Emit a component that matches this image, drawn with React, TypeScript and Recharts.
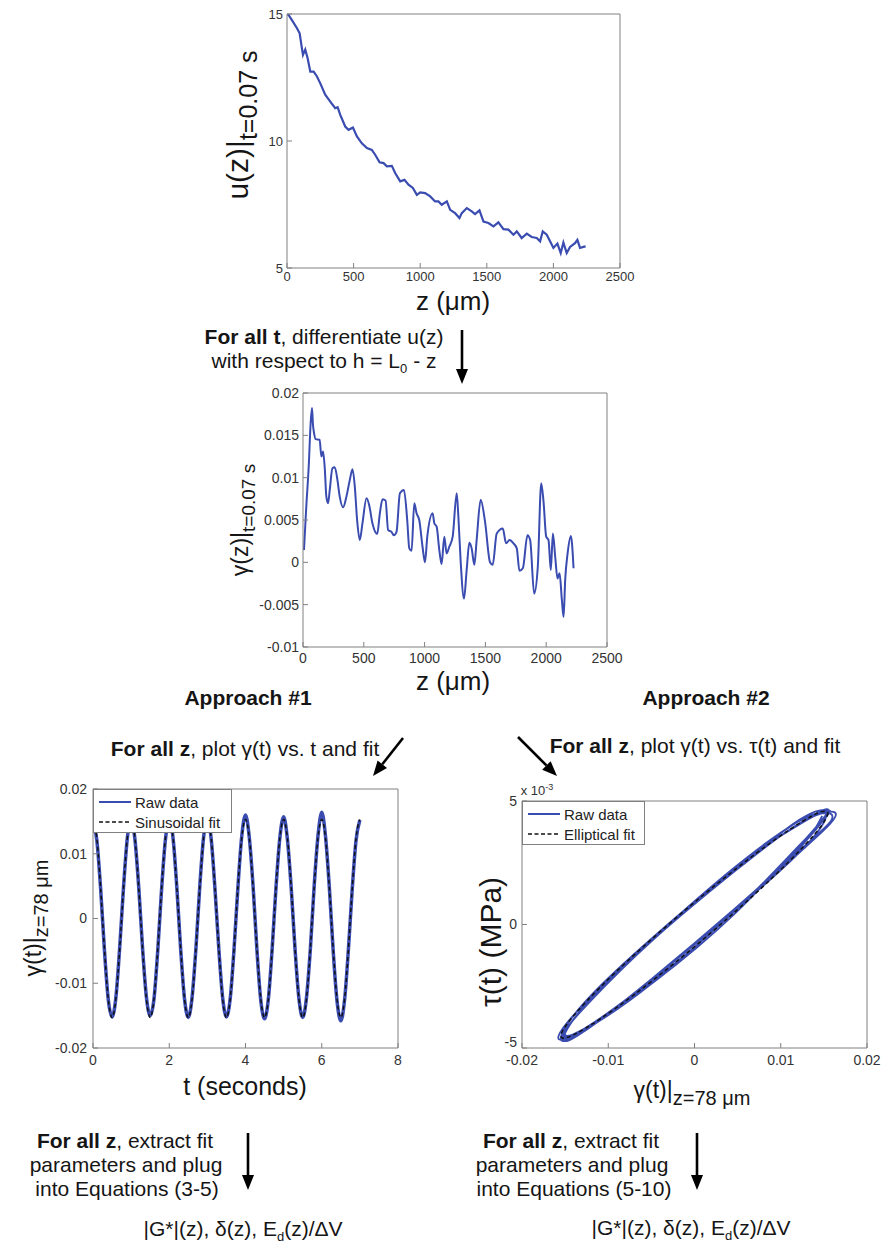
import React from 'react';
import { LineChart, Line, XAxis, YAxis } from 'recharts';

// ---------- data: top chart u(z) at t = 0.07 s ----------
const uZ = [0, 12, 37, 75, 95, 112, 120, 137, 155, 175, 200, 225, 250, 287, 325, 362, 380, 400, 437, 462, 495, 525, 562, 600, 637, 662, 695, 725, 750, 787, 812, 850, 882, 912, 945, 975, 1000, 1037, 1075, 1112, 1137, 1162, 1200, 1225, 1262, 1295, 1312, 1350, 1387, 1412, 1445, 1475, 1512, 1550, 1587, 1625, 1662, 1700, 1725, 1762, 1800, 1837, 1875, 1900, 1920, 1950, 1975, 2000, 2030, 2055, 2075, 2100, 2125, 2162, 2180, 2200, 2225, 2242];
const uVal = [15.0, 14.96, 14.76, 14.44, 14.24, 13.65, 13.39, 13.6, 13.26, 12.73, 12.73, 12.54, 12.27, 11.82, 11.55, 11.29, 11.33, 11.03, 10.57, 10.44, 10.53, 10.18, 9.91, 9.72, 9.65, 9.46, 9.16, 9.13, 9.0, 9.02, 8.74, 8.41, 8.47, 8.28, 8.15, 7.88, 7.98, 7.95, 7.82, 7.62, 7.62, 7.49, 7.62, 7.29, 7.16, 6.97, 7.16, 7.36, 7.23, 7.12, 7.27, 6.83, 6.77, 6.64, 6.8, 6.53, 6.51, 6.31, 6.44, 6.18, 6.35, 6.22, 6.18, 6.05, 6.44, 6.31, 6.05, 5.79, 5.96, 5.59, 6.0, 5.59, 5.83, 5.98, 6.11, 5.79, 5.83, 5.85];

// ---------- data: middle chart gamma(z) at t = 0.07 s ----------
const gzZ = [8, 27, 47, 63, 74, 82, 91, 104, 137, 151, 165, 179, 192, 206, 220, 242, 261, 283, 302, 330, 357, 385, 407, 426, 445, 467, 489, 522, 544, 571, 610, 632, 654, 679, 700, 728, 747, 769, 797, 830, 857, 874, 893, 915, 934, 956, 983, 1003, 1022, 1066, 1080, 1099, 1121, 1140, 1162, 1181, 1203, 1231, 1264, 1277, 1297, 1324, 1346, 1368, 1387, 1409, 1428, 1461, 1497, 1538, 1560, 1593, 1643, 1670, 1698, 1731, 1758, 1780, 1808, 1846, 1868, 1901, 1931, 1959, 1978, 2000, 2019, 2038, 2055, 2074, 2093, 2110, 2129, 2143, 2156, 2176, 2203, 2225];
const gzVal = [0.00145, 0.00658, 0.01132, 0.01645, 0.01822, 0.01625, 0.01526, 0.01455, 0.01447, 0.0125, 0.0131, 0.01112, 0.00776, 0.00698, 0.00855, 0.01112, 0.01124, 0.00974, 0.00776, 0.0065, 0.00776, 0.00974, 0.011, 0.00895, 0.005, 0.00263, 0.00461, 0.00757, 0.00678, 0.00461, 0.00334, 0.00579, 0.00745, 0.0073, 0.0038, 0.0036, 0.0032, 0.0036, 0.00816, 0.00855, 0.005, 0.00165, 0.00137, 0.00698, 0.00579, 0.005, 0.00184, 0.0, 0.00303, 0.00579, 0.00461, 0.00421, 0.00145, -0.0002, 0.00303, 0.00105, 0.00184, 0.00303, 0.00816, 0.00559, 0.0, -0.00428, -0.0009, 0.00232, 0.00165, -0.0003, 0.00263, 0.0074, 0.0048, 0.0, -0.0003, 0.0034, 0.004, 0.00224, 0.00263, 0.00224, 0.00165, -0.001, -0.0007, 0.0032, 0.00263, -0.00368, -0.0005, 0.00934, 0.00718, 0.00303, 0.00263, -0.0009, 0.0034, 0.00066, -0.0019, -0.0013, -0.00447, -0.00645, -0.0021, 0.00105, 0.00311, -0.0007];

// ---------- data: bottom charts, z = 78 um ----------
const tSec = [0, 0.1, 0.2, 0.3, 0.4, 0.5, 0.6, 0.7, 0.8, 0.9, 1, 1.1, 1.2, 1.3, 1.4, 1.5, 1.6, 1.7, 1.8, 1.9, 2, 2.1, 2.2, 2.3, 2.4, 2.5, 2.6, 2.7, 2.8, 2.9, 3, 3.1, 3.2, 3.3, 3.4, 3.5, 3.6, 3.7, 3.8, 3.9, 4, 4.1, 4.2, 4.3, 4.4, 4.5, 4.6, 4.7, 4.8, 4.9, 5, 5.1, 5.2, 5.3, 5.4, 5.5, 5.6, 5.7, 5.8, 5.9, 6, 6.1, 6.2, 6.3, 6.4, 6.5, 6.6, 6.7, 6.8, 6.9, 7];
const gammaRaw = [
  0.0148, 0.0121, 0.0046, -0.0049, -0.0125, -0.0152, -0.0122, -0.0045, 0.0048, 0.0124,
  0.0154, 0.0122, 0.0048, -0.0046, -0.0121, -0.015, -0.0124, -0.0048, 0.0046, 0.0122,
  0.0153, 0.0124, 0.0047, -0.0048, -0.0124, -0.0153, -0.0121, -0.0046, 0.0049, 0.0125,
  0.0155, 0.0123, 0.0045, -0.0047, -0.0122, -0.0152, -0.0123, -0.0047, 0.0047, 0.0126,
  0.016, 0.0125, 0.0049, -0.0049, -0.0126, -0.0155, -0.0124, -0.0046, 0.0048, 0.0124,
  0.0157, 0.0122, 0.0046, -0.0048, -0.0123, -0.0153, -0.0122, -0.0048, 0.0049, 0.0127,
  0.0164, 0.0126, 0.0047, -0.005, -0.0127, -0.0158, -0.0125, -0.0047, 0.0046, 0.0121,
  0.0152];
const gammaFit = [
  0.0153, 0.0124, 0.0047, -0.0047, -0.0124, -0.0153, -0.0124, -0.0047, 0.0047, 0.0124,
  0.0153, 0.0124, 0.0047, -0.0047, -0.0124, -0.0153, -0.0124, -0.0047, 0.0047, 0.0124,
  0.0153, 0.0124, 0.0047, -0.0047, -0.0124, -0.0153, -0.0124, -0.0047, 0.0047, 0.0124,
  0.0153, 0.0124, 0.0047, -0.0047, -0.0124, -0.0153, -0.0124, -0.0047, 0.0047, 0.0124,
  0.0153, 0.0124, 0.0047, -0.0047, -0.0124, -0.0153, -0.0124, -0.0047, 0.0047, 0.0124,
  0.0153, 0.0124, 0.0047, -0.0047, -0.0124, -0.0153, -0.0124, -0.0047, 0.0047, 0.0124,
  0.0153, 0.0124, 0.0047, -0.0047, -0.0124, -0.0153, -0.0124, -0.0047, 0.0047, 0.0124,
  0.0153];
// shear stress tau(t), in units of 1e-3 MPa
const tauRaw = [
  4.4, 3.05, 0.62, -2.18, -4.25, -4.62, -3.05, -0.48, 2.32, 4.1,
  4.55, 3.2, 0.48, -2.3, -4.1, -4.45, -3.2, -0.6, 2.18, 4.25,
  4.48, 3.0, 0.58, -2.2, -4.22, -4.55, -3.08, -0.5, 2.35, 4.15,
  4.62, 3.15, 0.5, -2.32, -4.15, -4.5, -3.18, -0.58, 2.2, 4.28,
  4.35, 3.1, 0.65, -2.22, -4.28, -4.6, -3.02, -0.45, 2.28, 4.12,
  4.58, 3.22, 0.52, -2.28, -4.12, -4.48, -3.15, -0.62, 2.22, 4.2,
  4.45, 3.05, 0.6, -2.25, -4.2, -4.58, -3.1, -0.52, 2.3, 4.18,
  4.5];
const ellipseGamma = [0.0155, 0.01474, 0.01254, 0.00911, 0.00479, 0, -0.00479, -0.00911, -0.01254, -0.01474, -0.0155, -0.01474, -0.01254, -0.00911, -0.00479, 0, 0.00479, 0.00911, 0.01254, 0.01474, 0.0155];
const ellipseTau = [4.51, 4.01, 3.12, 1.92, 0.54, -0.9, -2.25, -3.38, -4.18, -4.57, -4.51, -4.01, -3.12, -1.92, -0.54, 0.9, 2.25, 3.38, 4.18, 4.57, 4.51];

// ---------- ticks ----------
const zTicks = [0, 500, 1000, 1500, 2000, 2500];
const uTicks = [5, 10, 15];
const gzTicks = [-0.01, -0.005, 0, 0.005, 0.01, 0.015, 0.02];
const tTicks = [0, 2, 4, 6, 8];
const gtTicks = [-0.02, -0.01, 0, 0.01, 0.02];
const gxTicks = [-0.02, -0.01, 0, 0.01, 0.02];
const tauTicks = [-5, 0, 5];

const uData = uZ.map((z, i) => ({ z, u: uVal[i] }));
const gzData = gzZ.map((z, i) => ({ z, g: gzVal[i] }));
const gtData = tSec.map((t, i) => ({ t, raw: gammaRaw[i], fit: gammaFit[i] }));
const loopRaw = gammaRaw.map((g, i) => ({ g, tau: tauRaw[i] }));
const loopFit = ellipseGamma.map((g, i) => ({ g, tau: ellipseTau[i] }));

const FONT = '"Liberation Sans", Arial, Helvetica, sans-serif';
const AXIS = '#808080';
const TICKC = '#333333';
const BLUE = '#3a4cb0';
const INK = '#151515';

function makeYTick(fs: number, lowest: number, lift: number) {
  return (p: any) => (
    <text x={p.x} y={p.y + (p.payload.value === lowest ? -lift : 0)} dy="0.355em" textAnchor="end" fill={TICKC} fontSize={fs} fontFamily={FONT}>
      {String(p.payload.value)}
    </text>
  );
}

function axes(o: any) {
  const tickStyle = { fill: TICKC, fontSize: o.fs, fontFamily: FONT };
  return [
    <XAxis key="xb" xAxisId={0} dataKey={o.xKey} type="number" domain={o.xDomain} ticks={o.xTicks} interval={0} allowDataOverflow height={o.xh} tickSize={-5} tickMargin={o.xtm} axisLine={{ stroke: AXIS }} tickLine={{ stroke: AXIS }} tick={tickStyle} />,
    <XAxis key="xt" xAxisId="top" orientation="top" type="number" domain={o.xDomain} ticks={o.xTicks} interval={0} allowDataOverflow height={1} tickSize={-5} tick={false} axisLine={{ stroke: AXIS }} tickLine={{ stroke: AXIS }} />,
    <YAxis key="yl" yAxisId={0} type="number" domain={o.yDomain} ticks={o.yTicks} interval={0} allowDataOverflow width={o.yw} tickSize={-5} tickMargin={o.ytm} axisLine={{ stroke: AXIS }} tickLine={{ stroke: AXIS }} tick={o.yTick || tickStyle} />,
    <YAxis key="yr" yAxisId="right" orientation="right" type="number" domain={o.yDomain} ticks={o.yTicks} interval={0} allowDataOverflow width={1} tickSize={-5} tick={false} axisLine={{ stroke: AXIS }} tickLine={{ stroke: AXIS }} />,
  ];
}

function Txt({ x, y, size, bold, rot, color, children }: any) {
  return (
    <div style={{ position: 'absolute', left: x, top: y, transform: `translate(-50%,-50%)${rot ? ' rotate(-90deg)' : ''}`, fontFamily: FONT, fontSize: size, fontWeight: bold ? 'bold' : 'normal', whiteSpace: 'nowrap', lineHeight: 1, color: color || INK }}>
      {children}
    </div>
  );
}

function Sub({ size, children }: any) {
  return <span style={{ fontSize: size, position: 'relative', top: '0.35em' }}>{children}</span>;
}

function LegendBox({ left, top, width, height, items }: any) {
  return (
    <div style={{ position: 'absolute', left, top, width, height, boxSizing: 'border-box', border: `1px solid ${AXIS}`, background: '#fff', fontFamily: FONT, fontSize: 15, color: '#222' }}>
      {items.map((it: any, i: number) => (
        <div key={i} style={{ position: 'absolute', left: 5, top: 3 + i * 20, height: 18, display: 'flex', alignItems: 'center' }}>
          <svg width={32} height={10} style={{ marginRight: 4 }}>
            <line x1={0} y1={5} x2={32} y2={5} stroke={it.color} strokeWidth={it.dash ? 1.5 : 2} strokeDasharray={it.dash ? '4 2.5' : undefined} />
          </svg>
          <span>{it.label}</span>
        </div>
      ))}
    </div>
  );
}

const arrowSegs = [
  [462, 330, 462, 384],
  [403, 738, 373, 776],
  [518, 737, 557, 776],
  [248, 1133, 248, 1190],
  [697, 1133, 697, 1190],
];

function Arrows() {
  return (
    <svg width={883} height={1247} style={{ position: 'absolute', left: 0, top: 0, pointerEvents: 'none' }}>
      {arrowSegs.map(([x1, y1, x2, y2], i) => {
        const dx = x2 - x1, dy = y2 - y1;
        const L = Math.hypot(dx, dy);
        const ux = dx / L, uy = dy / L;
        const bx = x2 - ux * 15, by = y2 - uy * 15;
        const nx = -uy * 6, ny = ux * 6;
        return (
          <g key={i}>
            <line x1={x1} y1={y1} x2={bx} y2={by} stroke="#000" strokeWidth={2.6} />
            <polygon points={`${x2},${y2} ${bx + nx},${by + ny} ${bx - nx},${by - ny}`} fill="#000" />
          </g>
        );
      })}
    </svg>
  );
}

export default function App() {
  return (
    <div style={{ position: 'absolute', left: 0, top: 0, width: 883, height: 1247, background: '#fff', overflow: 'hidden' }}>
      {/* top chart */}
      <div style={{ position: 'absolute', left: 237, top: 4 }}>
        <LineChart width={404} height={294} data={uData} margin={{ top: 9, right: 20, left: 0, bottom: 0 }}>
          {axes({ xKey: 'z', xDomain: [0, 2500], xTicks: zTicks, yDomain: [5, 15], yTicks: uTicks, fs: 13, xh: 30, yw: 50, xtm: 9, ytm: 9 })}
          <Line dataKey="u" type="linear" stroke={BLUE} strokeWidth={2.2} dot={false} isAnimationActive={false} />
        </LineChart>
      </div>
      <Txt x={453} y={301} size={26}>z (μm)</Txt>
      <Txt x={238} y={125} size={30} rot>u(z)|<Sub size={25}>t=0.07 s</Sub></Txt>

      <Txt x={324} y={336} size={21}><b>For all t</b>, differentiate u(z)</Txt>
      <Txt x={324} y={360} size={21}>with respect to h = L<Sub size={13}>0</Sub> - z</Txt>

      {/* middle chart */}
      <div style={{ position: 'absolute', left: 243, top: 383 }}>
        <LineChart width={385} height={294} data={gzData} margin={{ top: 9, right: 20, left: 0, bottom: 0 }}>
          {axes({ xKey: 'z', xDomain: [0, 2500], xTicks: zTicks, yDomain: [-0.01, 0.02], yTicks: gzTicks, fs: 14, xh: 30, yw: 60, xtm: 11, ytm: 9 })}
          <Line dataKey="g" type="monotone" stroke={BLUE} strokeWidth={2} dot={false} isAnimationActive={false} />
        </LineChart>
      </div>
      <Txt x={453} y={681} size={26}>z (μm)</Txt>
      <Txt x={240} y={520} size={23} rot>γ(z)|<Sub size={19}>t=0.07 s</Sub></Txt>

      <Txt x={248} y={697} size={21} bold>Approach #1</Txt>
      <Txt x={706} y={697} size={21} bold>Approach #2</Txt>
      <Txt x={245} y={748} size={21}><b>For all z</b>, plot γ(t) vs. t and fit</Txt>
      <Txt x={695} y={745} size={21}><b>For all z</b>, plot γ(t) vs. τ(t) and fit</Txt>

      {/* bottom-left chart */}
      <div style={{ position: 'absolute', left: 38, top: 779 }}>
        <LineChart width={381} height={299} data={gtData} margin={{ top: 9, right: 20, left: 0, bottom: 0 }}>
          {axes({ xKey: 't', xDomain: [0, 8], xTicks: tTicks, yDomain: [-0.02, 0.02], yTicks: gtTicks, fs: 14, xh: 30, yw: 55, xtm: 12, ytm: 11 })}
          <Line dataKey="raw" type="monotone" stroke={BLUE} strokeWidth={3.5} dot={false} isAnimationActive={false} />
          <Line dataKey="fit" type="monotone" stroke="#111" strokeWidth={1.5} strokeDasharray="4 3" dot={false} isAnimationActive={false} />
        </LineChart>
      </div>
      <LegendBox left={93} top={789} width={139} height={44} items={[{ label: 'Raw data', color: BLUE }, { label: 'Sinusoidal fit', color: '#111', dash: true }]} />
      <Txt x={245} y={1086} size={25}>t (seconds)</Txt>
      <Txt x={33} y={918} size={23} rot>γ(t)|<Sub size={20}>z=78 μm</Sub></Txt>

      {/* bottom-right chart */}
      <div style={{ position: 'absolute', left: 482, top: 791 }}>
        <LineChart width={404} height={287} margin={{ top: 9, right: 18, left: 0, bottom: 0 }}>
          {axes({ xKey: 'g', xDomain: [-0.02, 0.02], xTicks: gxTicks, yDomain: [-5, 5], yTicks: tauTicks, fs: 14, xh: 30, yw: 40, xtm: 12, ytm: 10, yTick: makeYTick(14, -5, 6) })}
          <Line data={loopRaw} dataKey="tau" type="natural" stroke={BLUE} strokeWidth={1.8} dot={false} isAnimationActive={false} />
          <Line data={loopFit} dataKey="tau" type="natural" stroke="#111" strokeWidth={1.5} strokeDasharray="4 3" dot={false} isAnimationActive={false} />
        </LineChart>
      </div>
      <LegendBox left={522} top={801} width={123} height={44} items={[{ label: 'Raw data', color: BLUE }, { label: 'Elliptical fit', color: '#111', dash: true }]} />
      <Txt x={537} y={790} size={13} color="#333">x 10<span style={{ fontSize: 9, position: 'relative', top: '-0.6em' }}>-3</span></Txt>
      <Txt x={491} y={942} size={30} rot>τ(t) (MPa)</Txt>
      <Txt x={692} y={1090} size={23}>γ(t)|<Sub size={20}>z=78 μm</Sub></Txt>

      {/* bottom texts */}
      <Txt x={125} y={1140} size={21}><b>For all z</b>, extract fit</Txt>
      <Txt x={126} y={1164} size={21}>parameters and plug</Txt>
      <Txt x={127} y={1188} size={21}>into Equations (3-5)</Txt>
      <Txt x={243} y={1228} size={21}>|G*|(z), δ(z), E<Sub size={13}>d</Sub>(z)/ΔV</Txt>

      <Txt x={571} y={1140} size={21}><b>For all z</b>, extract fit</Txt>
      <Txt x={572} y={1164} size={21}>parameters and plug</Txt>
      <Txt x={574} y={1188} size={21}>into Equations (5-10)</Txt>
      <Txt x={691} y={1227} size={21}>|G*|(z), δ(z), E<Sub size={13}>d</Sub>(z)/ΔV</Txt>

      <Arrows />
    </div>
  );
}
